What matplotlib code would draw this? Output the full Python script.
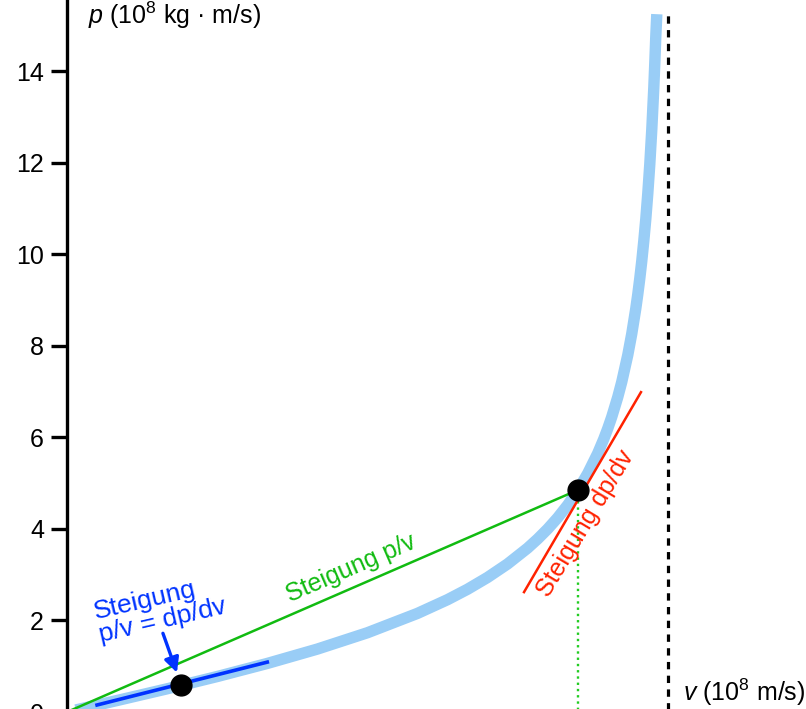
import matplotlib
matplotlib.use("Agg")
import matplotlib.pyplot as plt

plt.rcParams['font.family'] = ['Liberation Sans', 'DejaVu Sans']
plt.rcParams['mathtext.fontset'] = 'custom'
plt.rcParams['mathtext.rm'] = 'Liberation Sans'
plt.rcParams['mathtext.it'] = 'Liberation Sans:italic'

# Impuls-Kurve (v in 10^8 m/s, p in 10^8 kg m/s)
v_curve = [0.0, 0.25, 0.5, 0.75, 1.0, 1.25, 1.5, 1.75, 1.9, 2.0, 2.1, 2.2, 2.3, 2.35,
           2.4, 2.45, 2.5, 2.55, 2.6, 2.65, 2.68, 2.7, 2.72, 2.75, 2.77, 2.8, 2.82,
           2.84, 2.85, 2.86, 2.87, 2.88, 2.89, 2.9, 2.91, 2.92, 2.93, 2.935, 2.94, 2.945]
p_curve = [0.0, 0.251, 0.507, 0.775, 1.061, 1.375, 1.732, 2.155, 2.455, 2.683, 2.941,
           3.236, 3.582, 3.781, 4.0, 4.245, 4.523, 4.841, 5.212, 5.653, 5.964, 6.194,
           6.448, 6.881, 7.213, 7.799, 8.266, 8.814, 9.127, 9.472, 9.856, 10.29,
           10.77, 11.33, 11.97, 12.73, 13.64, 14.18, 14.77, 15.25]

c_light = 3.0
c_top = 15.26

# Punkte
v_pts = [0.57, 2.55]
p_pts = [0.6, 4.85]

# Tangente unten (blau), Tangente oben (rot), Sekante (gruen)
tan_low_v = [0.15, 1.0]
tan_low_p = [0.153, 1.09]
tan_high_v = [2.282, 2.866]
tan_high_p = [2.62, 6.99]
sec_v = [0.0, 2.55]
sec_p = [0.0, 4.85]

yticks = [0, 2, 4, 6, 8, 10, 12, 14]

fs = 18

fig = plt.figure(figsize=(8.06, 7.09), dpi=100)
ax = fig.add_axes([67 / 806, -3 / 709, 739 / 806, 712 / 709])
ax.set_xlim(0, 3.69)
ax.set_ylim(0, 15.56)

ax.plot(v_curve, p_curve, color='#99cdf6', lw=8.2, solid_capstyle='butt',
        solid_joinstyle='round', zorder=2)
ax.plot([c_light, c_light], [0, c_top], color='black', lw=2.3, dashes=(2.3, 2.0), zorder=2)
ax.plot([v_pts[1], v_pts[1]], [0, p_pts[1]], color='#22cc22', lw=1.7, ls=':', zorder=2)
ax.plot(sec_v, sec_p, color='#11bb11', lw=1.8, zorder=3)
ax.plot(tan_high_v, tan_high_p, color='#ff2200', lw=1.8, zorder=3)
ax.plot(tan_low_v, tan_low_p, color='#0033ff', lw=2.6, zorder=3)
ax.plot(v_pts, p_pts, 'o', color='black', ms=15, zorder=5)

ax.text(1.418, 3.13, 'Steigung p/v', color='#11bb11', fontsize=fs,
        rotation=23.4, rotation_mode='anchor', ha='center', va='center')
ax.text(2.59, 4.13, 'Steigung dp/dv', color='#ff2200', fontsize=fs,
        rotation=59, rotation_mode='anchor', ha='center', va='center')
ax.text(0.465, 2.24, 'Steigung\np/v = dp/dv', color='#0033ff', fontsize=19,
        rotation=13, rotation_mode='anchor', ha='center', va='center',
        multialignment='left', linespacing=1.0)
ax.annotate('', xy=(0.549, 0.86), xytext=(0.479, 1.72),
            arrowprops=dict(arrowstyle='-|>', color='#0033ff', lw=2.4,
                            mutation_scale=22, shrinkA=0, shrinkB=0))

ax.text(0.105, 15.23, r'$p$ (10$^8$ kg · m/s)', fontsize=fs, ha='left', va='center')
ax.text(3.075, 0.44, r'$v$ (10$^8$ m/s)', fontsize=fs, ha='left', va='center')

for s in ['top', 'right', 'bottom']:
    ax.spines[s].set_visible(False)
ax.spines['left'].set_linewidth(2.4)
ax.set_xticks([])
ax.set_yticks(yticks)
ax.tick_params(axis='y', length=11.5, width=2.4, pad=5, labelsize=fs)

fig.savefig('out.png', dpi=100)
